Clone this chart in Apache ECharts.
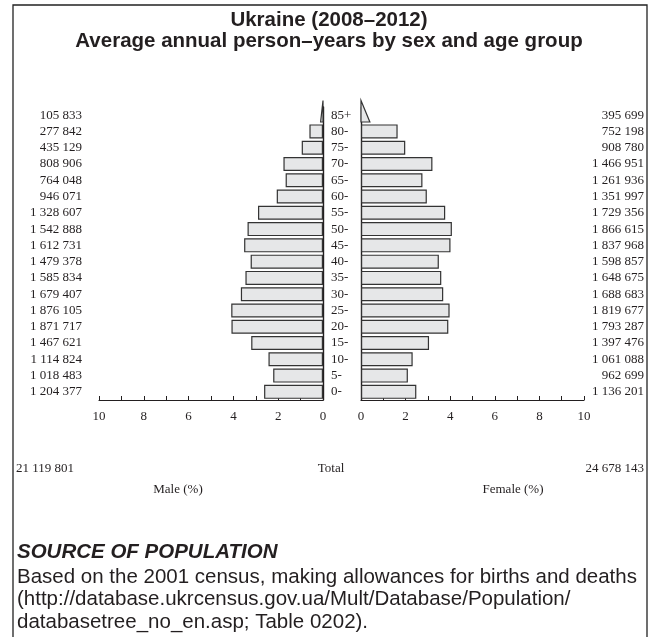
<!DOCTYPE html>
<html>
<head>
<meta charset="utf-8">
<script src="https://cdn.jsdelivr.net/npm/echarts@6/dist/echarts.min.js"></script>
<style>
  html, body { margin: 0; padding: 0; background: #fff; }
  #chart { width: 658px; height: 637px; }
</style>
</head>
<body>
<div id="chart"></div>
<script>
// age groups, bottom to top
const ages = ['0-', '5-', '10-', '15-', '20-', '25-', '30-', '35-', '40-', '45-', '50-', '55-', '60-', '65-', '70-', '75-', '80-', '85+']
// person-years
const maleCounts = [1204377, 1018483, 1114824, 1467621, 1871717, 1876105, 1679407, 1585834, 1479378, 1612731, 1542888, 1328607, 946071, 764048, 808906, 435129, 277842, 105833]
const femaleCounts = [1136201, 962699, 1061088, 1397476, 1793287, 1819677, 1688683, 1648675, 1598857, 1837968, 1866615, 1729356, 1351997, 1261936, 1466951, 908780, 752198, 395699]
const maleTotal = 21119801
const femaleTotal = 24678143
const xTicks = [0, 2, 4, 6, 8, 10]

// share of the whole population, in %
const allTotal = maleTotal + femaleTotal
const malePct = maleCounts.map(v => v / allTotal * 100)
const femalePct = femaleCounts.map(v => v / allTotal * 100)
const last = ages.length - 1

const fmt = n => String(n).replace(/\B(?=(\d{3})+(?!\d))/g, ' ')

const SERIF = '"Liberation Serif", "DejaVu Serif", serif'
const SANS = '"Liberation Sans", Arial, sans-serif'
const INK = '#231f20'
const BAR_FILL = '#e6e7e8'
const BAR_LINE = '#333333'
const TRI = 0.46

const chart = echarts.init(document.getElementById('chart'), null, { renderer: 'canvas' })

const xAxisBase = (grid, inverse) => ({
  gridIndex: grid,
  type: 'value',
  min: 0,
  max: 10,
  interval: 1,
  inverse: inverse,
  splitLine: { show: false },
  axisLine: { show: true, lineStyle: { color: INK, width: 1.2 } },
  axisTick: { show: true, inside: true, length: 4, lineStyle: { color: INK, width: 1 } },
  axisLabel: {
    margin: 10,
    color: INK,
    fontFamily: SERIF,
    fontSize: 13,
    formatter: v => (xTicks.indexOf(v) >= 0 ? String(v) : '')
  }
})

// open-ended 85+ group is drawn as a wedge
const triangle = (params, api) => {
  const zero = api.coord([0, api.value(1)])
  const tip = api.coord([api.value(0) * TRI, api.value(1)])
  const band = api.size([0, 1])[1]
  const bottom = zero[1] + band * 0.42
  const apex = zero[1] - band * 0.9
  return {
    type: 'polygon',
    shape: { points: [[zero[0], bottom], [tip[0], bottom], [zero[0], apex]] },
    style: { fill: BAR_FILL, stroke: BAR_LINE, lineWidth: 1.2 }
  }
}

const barData = arr => arr.map((v, i) => (i === last ? '-' : v))

const small = { fontFamily: SERIF, fontWeight: 'normal', fontSize: 13, color: INK }

const option = {
  animation: false,
  backgroundColor: '#fff',
  title: [
    {
      text: 'Ukraine (2008–2012)\nAverage annual person–years by sex and age group',
      left: 'center',
      top: 10,
      padding: 0,
      textStyle: { fontFamily: SANS, fontWeight: 'bold', fontSize: 20.5, lineHeight: 21, color: INK }
    },
    { text: fmt(maleTotal), left: 16, top: 462, padding: 0, textStyle: small },
    { text: 'Total', left: 331, top: 462, padding: 0, textAlign: 'center', textStyle: small },
    { text: fmt(femaleTotal), right: 14, top: 462, padding: 0, textStyle: small },
    { text: 'Male (%)', left: 178, top: 483, padding: 0, textAlign: 'center', textStyle: small },
    { text: 'Female (%)', left: 513, top: 483, padding: 0, textAlign: 'center', textStyle: small },
    {
      text: 'SOURCE OF POPULATION', left: 17, top: 542, padding: 0,
      textStyle: { fontFamily: SANS, fontWeight: 'bold', fontStyle: 'italic', fontSize: 20.5, color: INK }
    },
    {
      text: 'Based on the 2001 census, making allowances for births and deaths\n(http://database.ukrcensus.gov.ua/Mult/Database/Population/\ndatabasetree_no_en.asp; Table 0202).',
      left: 17,
      top: 566,
      padding: 0,
      textStyle: { fontFamily: SANS, fontWeight: 'normal', fontSize: 20.5, lineHeight: 22.5, color: INK }
    }
  ],
  graphic: [
    {
      type: 'polyline',
      shape: { points: [[13, 640], [13, 5], [647, 5], [647, 640]] },
      style: { fill: null, stroke: '#222', lineWidth: 1.3 },
      silent: true
    }
  ],
  grid: [
    { left: 99, top: 107, width: 224, height: 293 },
    { left: 361, top: 107, width: 223, height: 293 }
  ],
  xAxis: [xAxisBase(0, true), xAxisBase(1, false)],
  yAxis: [
    {
      gridIndex: 0, type: 'category', data: ages, position: 'right',
      axisLine: { show: true, lineStyle: { color: INK, width: 1.4 } },
      axisTick: { show: false }, axisLabel: { show: false }
    },
    {
      gridIndex: 0, type: 'category', data: maleCounts, position: 'left',
      axisLine: { show: false }, axisTick: { show: false },
      axisLabel: { interval: 0, margin: 17, color: INK, fontFamily: SERIF, fontSize: 13, formatter: v => fmt(v) }
    },
    {
      gridIndex: 1, type: 'category', data: ages, position: 'left',
      axisLine: { show: true, lineStyle: { color: INK, width: 1.4 } },
      axisTick: { show: false },
      axisLabel: { interval: 0, margin: 30, align: 'left', color: INK, fontFamily: SERIF, fontSize: 13 }
    },
    {
      gridIndex: 1, type: 'category', data: femaleCounts, position: 'right',
      axisLine: { show: false }, axisTick: { show: false },
      axisLabel: { interval: 0, margin: 60, align: 'right', color: INK, fontFamily: SERIF, fontSize: 13, formatter: v => fmt(v) }
    }
  ],
  series: [
    {
      name: 'Male', type: 'bar', xAxisIndex: 0, yAxisIndex: 0,
      data: barData(malePct), barCategoryGap: '14%',
      itemStyle: { color: BAR_FILL, borderColor: BAR_LINE, borderWidth: 1.2 }
    },
    {
      name: 'Female', type: 'bar', xAxisIndex: 1, yAxisIndex: 2,
      data: barData(femalePct), barCategoryGap: '14%',
      itemStyle: { color: BAR_FILL, borderColor: BAR_LINE, borderWidth: 1.2 }
    },
    {
      name: 'Male 85+', type: 'custom', xAxisIndex: 0, yAxisIndex: 0,
      data: [[malePct[last], last]], renderItem: triangle, z: 3
    },
    {
      name: 'Female 85+', type: 'custom', xAxisIndex: 1, yAxisIndex: 2,
      data: [[femalePct[last], last]], renderItem: triangle, z: 3
    }
  ]
}

chart.setOption(option)
</script>
</body>
</html>
